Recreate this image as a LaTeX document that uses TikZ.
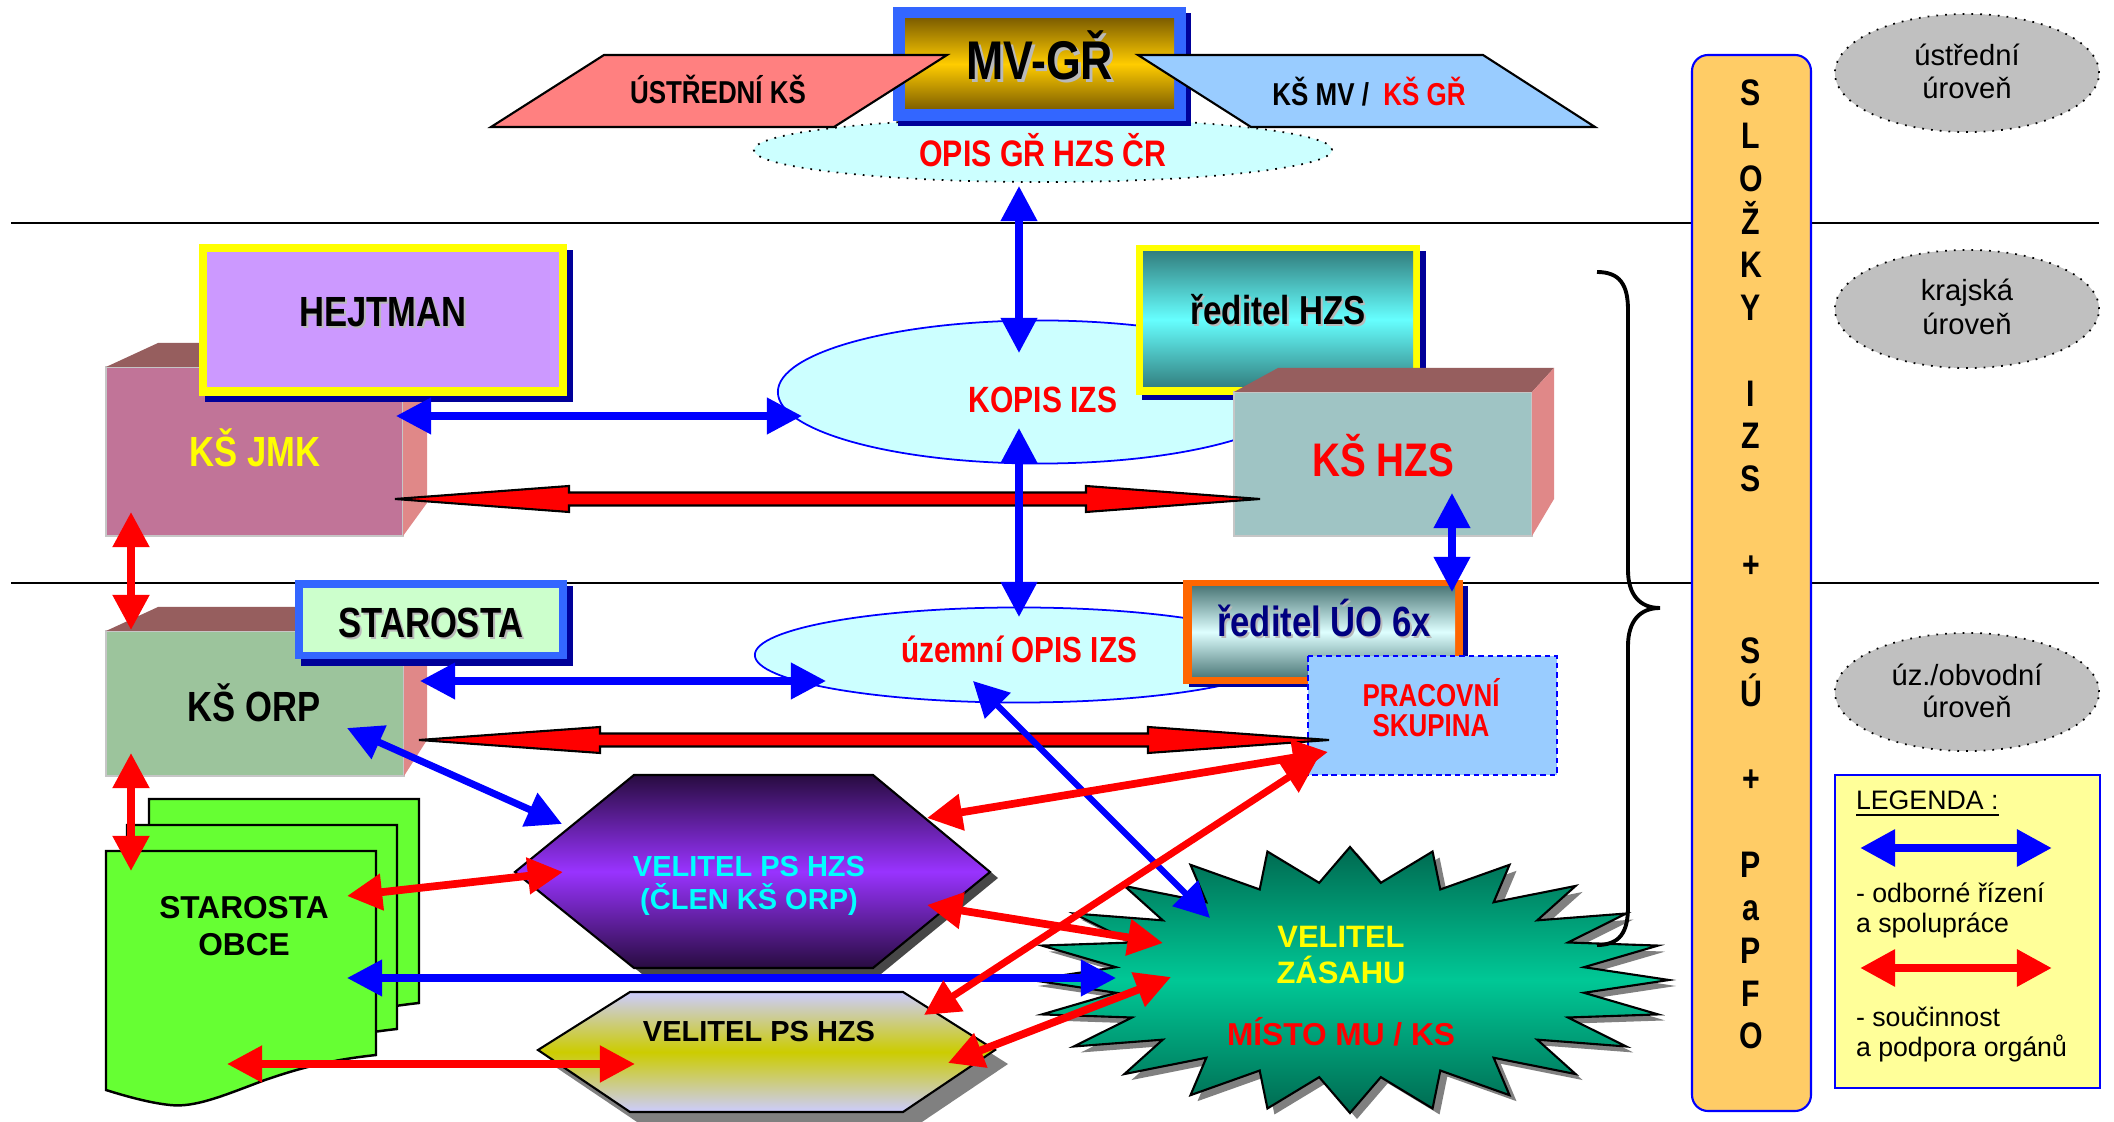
\documentclass[tikz,border=0pt]{standalone}
\usepackage{fontspec}
\setmainfont{Liberation Sans}
\newfontfamily\nar[FakeStretch=0.82]{Liberation Sans}
\usetikzlibrary{arrows.meta,calc}
\definecolor{cblue}{RGB}{0,0,255}
\definecolor{cred}{RGB}{255,0,0}
\definecolor{frameblue}{RGB}{51,102,255}
\definecolor{navy}{RGB}{0,0,153}
\definecolor{textnavy}{RGB}{0,0,128}
\definecolor{pinkfill}{RGB}{255,128,128}
\definecolor{ltblue}{RGB}{153,204,255}
\definecolor{ltcyan}{RGB}{204,255,255}
\definecolor{gold}{RGB}{255,204,0}
\definecolor{olivebr}{RGB}{128,96,0}
\definecolor{lilac}{RGB}{204,153,255}
\definecolor{boxtop}{RGB}{150,94,94}
\definecolor{boxside}{RGB}{224,136,136}
\definecolor{jmk}{RGB}{193,116,152}
\definecolor{hzs}{RGB}{159,196,196}
\definecolor{orp}{RGB}{156,196,156}
\definecolor{teald}{RGB}{51,128,128}
\definecolor{tealm}{RGB}{102,255,255}
\definecolor{slate}{RGB}{79,122,122}
\definecolor{palecy}{RGB}{222,255,255}
\definecolor{paleg}{RGB}{204,255,204}
\definecolor{orangef}{RGB}{255,102,0}
\definecolor{docgreen}{RGB}{102,255,51}
\definecolor{purpd}{RGB}{40,12,64}
\definecolor{purpm}{RGB}{153,51,255}
\definecolor{lav}{RGB}{204,204,255}
\definecolor{olivey}{RGB}{204,204,0}
\definecolor{stard}{RGB}{0,105,80}
\definecolor{starm}{RGB}{0,200,150}
\definecolor{colorange}{RGB}{255,204,102}
\definecolor{legy}{RGB}{255,255,153}
\definecolor{lvlgray}{RGB}{192,192,192}
\definecolor{cyantext}{RGB}{0,255,255}
\definecolor{yel}{RGB}{255,255,0}
\tikzset{
 T/.style={inner sep=0pt, outer sep=0pt, anchor=base},
 TL/.style={inner sep=0pt, outer sep=0pt, anchor=base west},
 nb/.style={font=\nar\bfseries\fontsize{#1}{#1}\selectfont},
 rb/.style={font=\bfseries\fontsize{#1}{#1}\selectfont},
 rg/.style={font=\fontsize{#1}{#1}\selectfont},
 dbl/.style={arrows={Triangle[length=10pt,width=10pt]-Triangle[length=10pt,width=10pt]}},
 barr/.style={dbl, draw=cblue, line width=#1},
 barr/.default=2pt,
 rarr/.style={dbl, draw=cred, line width=#1},
 rarr/.default=2.2pt,
 wedgeshape/.style={fill=cred, draw=black, line width=0.6pt, line join=miter},
 frontface/.style={draw=gray!45, line width=0.5pt},
 tsh/.style={text=gray!55},
 lvl/.style={draw=black, dotted, fill=lvlgray, line width=0.5pt},
}
\newcommand\wedgearrow[3]{%
 \filldraw[wedgeshape] (#1) -- ($(#1)+(#3,-13)$) -- ($(#1)+(#3,-6.5)$) -- ($(#2)+(-#3,-6.5)$) -- ($(#2)+(-#3,-13)$) -- (#2) -- ($(#2)+(-#3,13)$) -- ($(#2)+(-#3,6.5)$) -- ($(#1)+(#3,6.5)$) -- ($(#1)+(#3,13)$) -- cycle;}
\begin{document}
\begin{tikzpicture}[x=0.01cm,y=-0.01cm]
\useasboundingbox (0,0) rectangle (2114,1122);
\fill[white] (0,0) rectangle (2114,1122);

% level lines
\draw[line width=0.45pt] (11,223) -- (2099,223);
\draw[line width=0.45pt] (11,583) -- (2099,583);

% right column
\draw[draw=cblue, fill=colorange, line width=0.6pt, rounded corners=1.6mm] (1692,55) rectangle (1811,1111);
\foreach \i/\c in {1/S,2/L,3/O,4/Ž,5/K,6/Y,8/I,9/Z,10/S,12/+,14/S,15/Ú,17/+,19/P,20/a,21/P,22/F,23/O}
  \node[T, nb=10.5] (col\i) at (1751,{106+(\i-1)*42.86}) {\c};

% level ellipses
\draw[lvl] (1967,73) ellipse [x radius=1.32cm, y radius=0.59cm];
\node[T, rg=8.3] (lv1a) at (1967,66) {ústřední};
\node[T, rg=8.3] (lv1b) at (1967,99) {úroveň};
\draw[lvl] (1967,309) ellipse [x radius=1.32cm, y radius=0.59cm];
\node[T, rg=8.3] (lv2a) at (1967,301) {krajská};
\node[T, rg=8.3] (lv2b) at (1967,335) {úroveň};
\draw[lvl] (1967,692) ellipse [x radius=1.32cm, y radius=0.59cm];
\node[T, rg=8.3] (lv3a) at (1967,686) {úz./obvodní};
\node[T, rg=8.3] (lv3b) at (1967,718) {úroveň};

% legend
\draw[fill=legy, draw=cblue, line width=0.7pt] (1835,775) rectangle (2100,1088);
\node[TL, rg=7.6] (legT) at (1856,810) {\underline{LEGENDA :}};
\coordinate (lb1) at (1860,848); \coordinate (lb2) at (2052,848);
\draw[barr=2.5pt] (lb1) -- (lb2);
\node[TL, rg=7.6] (leg1) at (1856,903) {- odborné řízení};
\node[TL, rg=7.6] (leg2) at (1856,933) {a spolupráce};
\coordinate (lr1) at (1860,968); \coordinate (lr2) at (2052,968);
\draw[rarr=2.5pt] (lr1) -- (lr2);
\node[TL, rg=7.6] (leg3) at (1856,1027) {- součinnost};
\node[TL, rg=7.6] (leg4) at (1856,1057) {a podpora orgánů};

% ---------- top level ----------
\draw[dotted, fill=ltcyan, line width=0.5pt] (1043,150) ellipse [x radius=2.89cm, y radius=0.32cm];
\fill[navy] (898,13) rectangle (1191,126);
\fill[frameblue] (893,7) rectangle (1186,121);
\shade[top color=olivebr, bottom color=olivebr, middle color=gold] (905,19) rectangle (1174,109);
\node[T, nb=15.5, tsh] (mvS) at (1043,83) {MV-GŘ};
\node[T, nb=15.5] (mv) at (1040,80) {MV-GŘ};
\draw[fill=pinkfill, line width=0.6pt] (604,55) -- (947,55) -- (834,127) -- (491,127) -- cycle;
\draw[fill=ltblue, line width=0.6pt] (1138,55) -- (1483,55) -- (1595,127) -- (1251,127) -- cycle;
\node[T, nb=9] (ustr) at (718,104) {ÚSTŘEDNÍ KŠ};
\node[T, nb=9] (ksmv) at (1369,106) {KŠ MV /~~\textcolor{cred}{KŠ GŘ}};
\node[T, nb=10.5, text=cred] (opis) at (1043,167) {OPIS GŘ HZS ČR};

% ---------- regional level ----------
\fill[jmk] (106,367) rectangle (403,536);
\draw[frontface] (106,367) rectangle (403,536);
\fill[boxtop] (106,367) -- (158,343) -- (427,343) -- (403,367) -- cycle;
\fill[boxside] (403,367) -- (427,343) -- (427,503) -- (403,536) -- cycle;
\node[T, nb=12, text=yel] (ksjmk) at (255,467) {KŠ JMK};
\fill[navy] (205,250) rectangle (573,402);
\fill[yel] (199,244) rectangle (567,396);
\fill[lilac] (207,252) rectangle (559,387);
\node[T, nb=12, tsh] (hejS) at (385,329) {HEJTMAN};
\node[T, nb=12] (hej) at (383,327) {HEJTMAN};
\draw[draw=cblue, fill=ltcyan, line width=0.5pt] (1040,392) ellipse [x radius=2.62cm, y radius=0.715cm];
\node[T, nb=10.4, text=cred] (kopis) at (1043,413) {KOPIS IZS};
\fill[navy] (1142,251) rectangle (1426,400);
\fill[yel] (1136,245) rectangle (1420,395);
\shade[top color=teald, bottom color=teald, middle color=tealm] (1143,252) rectangle (1413,387);
\node[T, nb=11.5, tsh] (redHS) at (1280,327) {ředitel HZS};
\node[T, nb=11.5] (redH) at (1278,325) {ředitel HZS};
\fill[hzs] (1234,392) rectangle (1532,536);
\draw[frontface] (1234,392) rectangle (1532,536);
\fill[boxtop] (1234,392) -- (1278,368) -- (1554,368) -- (1532,392) -- cycle;
\fill[boxside] (1532,392) -- (1554,368) -- (1554,499) -- (1532,536) -- cycle;
\node[T, nb=13.4, text=cred] (kshzs) at (1383,477) {KŠ HZS};

% ---------- territorial level ----------
\draw[draw=cblue, fill=ltcyan, line width=0.5pt] (1019,655) ellipse [x radius=2.64cm, y radius=0.475cm];
\node[T, nb=10.3, text=cred] (uzem) at (1019,663) {územní OPIS IZS};
\fill[orp] (106,631) rectangle (404,776);
\draw[frontface] (106,631) rectangle (404,776);
\fill[boxtop] (106,631) -- (158,607) -- (427,607) -- (404,631) -- cycle;
\fill[boxside] (404,631) -- (427,607) -- (427,740) -- (404,776) -- cycle;
\node[T, nb=12] (ksorp) at (254,722) {KŠ ORP};
\fill[navy] (301,586) rectangle (573,666);
\fill[frameblue] (295,580) rectangle (567,659);
\fill[paleg] (303,588) rectangle (559,652);
\node[T, nb=12, tsh] (starS) at (433,640) {STAROSTA};
\node[T, nb=12] (star) at (431,638) {STAROSTA};
\fill[navy] (1189,586) rectangle (1468,687);
\fill[orangef] (1183,580) rectangle (1463,684);
\shade[top color=slate, bottom color=slate, middle color=palecy] (1192,587) rectangle (1455,677);
\node[T, nb=12, tsh] (reduoS) at (1326,639) {ředitel ÚO 6x};
\node[T, nb=12, text=textnavy] (reduo) at (1324,637) {ředitel ÚO 6x};
\draw[fill=ltblue, draw=cblue, line width=0.6pt, dash pattern=on 1.6pt off 1.1pt] (1308,656) rectangle (1557,775);
\node[T, nb=9, text=cred] (prac1) at (1431,707) {PRACOVNÍ};
\node[T, nb=9, text=cred] (prac2) at (1431,737) {SKUPINA};

\foreach \dx/\dy in {43/-52,21/-26,0/0}{
 \begin{scope}[shift={(\dx,\dy)}]
 \draw[fill=docgreen, line width=0.7pt] (106,851) -- (376,851) -- (376,1055) .. controls (330,1060) and (300,1068) .. (265,1080) .. controls (225,1095) and (195,1108) .. (170,1105) .. controls (150,1103) and (125,1096) .. (106,1090) -- cycle;
 \end{scope}}
\node[T, rb=9] (obce1) at (244,919) {STAROSTA};
\node[T, rb=9] (obce2) at (244,956) {OBCE};

\fill[black!72] (642,781) -- (881,781) -- (998,878) -- (881,974) -- (642,974) -- (523,878) -- cycle;
\shadedraw[top color=purpd, bottom color=purpd, middle color=purpm, draw=black, line width=0.6pt] (634,775) -- (873,775) -- (990,872) -- (873,968) -- (634,968) -- (515,872) -- cycle;
\node[T, rb=8.25, text=cyantext] (clen1) at (749,877) {VELITEL PS HZS};
\node[T, rb=8.25, text=cyantext] (clen2) at (749,910) {(ČLEN KŠ ORP)};

\fill[black!50] (643,1006) -- (916,1006) -- (1008,1064) -- (916,1126) -- (643,1126) -- (551,1064) -- cycle;
\shadedraw[top color=lav, bottom color=lav, middle color=olivey, draw=black, line width=0.6pt] (630,992) -- (903,992) -- (995,1050) -- (903,1112) -- (630,1112) -- (538,1050) -- cycle;
\node[T, rb=8.25] (pshzs) at (759,1042) {VELITEL PS HZS};

\begin{scope}[shift={(7,6)}]
\fill[black!50] (1350,847) \foreach \k in {1,...,24}{ -- ({1350+236*sin(15*\k-7.5)},{980-98*cos(15*\k-7.5)}) -- ({1350+319*sin(15*\k)},{980-133*cos(15*\k)}) } -- cycle;
\end{scope}
\shadedraw[top color=stard, bottom color=stard, middle color=starm, draw=black, line width=0.6pt] (1350,847) \foreach \k in {1,...,24}{ -- ({1350+236*sin(15*\k-7.5)},{980-98*cos(15*\k-7.5)}) -- ({1350+319*sin(15*\k)},{980-133*cos(15*\k)}) } -- cycle;
\node[T, rb=8.8, text=yel] (zas1) at (1341,948) {VELITEL};
\node[T, rb=8.8, text=yel] (zas2) at (1341,984) {ZÁSAHU};
\node[T, rb=9, text=cred] (zas3) at (1341,1046) {MÍSTO MU / KS};

\draw[line width=1.1pt] (1597,272) .. controls (1620,272) and (1628,285) .. (1628,310) -- (1628,570) .. controls (1628,595) and (1640,608) .. (1660,608) .. controls (1640,608) and (1628,621) .. (1628,646) -- (1628,907) .. controls (1628,932) and (1620,945) .. (1597,945);

% ---------- connectors ----------
\coordinate (opisS) at (1019,186);
\coordinate (kopisN) at (1019,353);
\coordinate (kopisS) at (1019,428);
\coordinate (uzemN) at (1019,617);
\coordinate (jmkE) at (396,416);
\coordinate (kopisW) at (802,416);
\coordinate (orpE) at (420,681);
\coordinate (uzemW) at (826,681);
\coordinate (hzsS) at (1452,493);
\coordinate (uoN) at (1452,592);
\coordinate (orpSE) at (347,728);
\coordinate (clenNW) at (562,824);
\coordinate (obceE) at (347,978);
\coordinate (starW) at (1116,978);
\coordinate (uzemS) at (973,681);
\coordinate (starNW) at (1210,918);
\coordinate (jmkS) at (131,512);
\coordinate (orpN) at (131,630);
\coordinate (orpS) at (131,753);
\coordinate (obceN) at (131,871);
\coordinate (obceE2) at (347,896);
\coordinate (clenW) at (563,872);
\coordinate (obceS) at (227,1064);
\coordinate (pshzsW) at (635,1064);
\coordinate (clenNE) at (927,818);
\coordinate (pracSW) at (1328,752);
\coordinate (pshzsNE) at (924,1015);
\coordinate (pracSW2) at (1318,758);
\coordinate (clenE) at (927,905);
\coordinate (starW2) at (1163,943);
\coordinate (pshzsE) at (948,1063);
\coordinate (starW3) at (1171,977);
\coordinate (jmkW) at (395,499);
\coordinate (hzsW) at (1260,499);
\coordinate (orpW) at (419,740);
\coordinate (pracW) at (1329,740);

\wedgearrow{jmkW}{hzsW}{174}
\wedgearrow{orpW}{pracW}{181}

\draw[barr] (opisS) -- (kopisN);
\draw[barr] (kopisS) -- (uzemN);
\draw[barr] (jmkE) -- (kopisW);
\draw[barr] (orpE) -- (uzemW);
\draw[barr] (hzsS) -- (uoN);
\draw[barr] (orpSE) -- (clenNW);
\draw[barr] (obceE) -- (starW);
\draw[barr=1.8pt] (uzemS) -- (starNW);

\draw[rarr] (jmkS) -- (orpN);
\draw[rarr] (orpS) -- (obceN);
\draw[rarr] (obceE2) -- (clenW);
\draw[rarr] (obceS) -- (pshzsW);
\draw[rarr] (clenNE) -- (pracSW);
\draw[rarr=2pt] (pshzsNE) -- (pracSW2);
\draw[rarr] (clenE) -- (starW2);
\draw[rarr] (pshzsE) -- (starW3);
\end{tikzpicture}
\end{document}
